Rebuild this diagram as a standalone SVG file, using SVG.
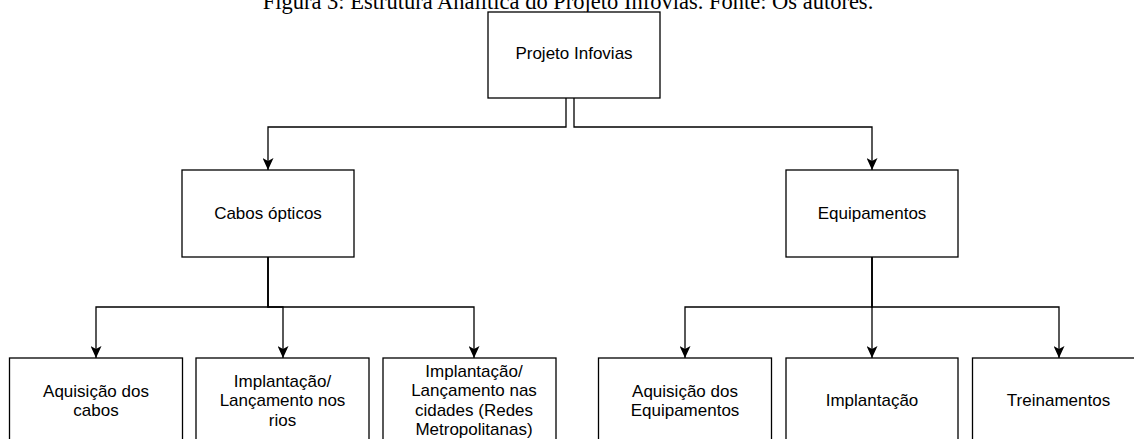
<svg xmlns="http://www.w3.org/2000/svg" width="1134" height="439" viewBox="0 0 1134 439">
<style>
.box{fill:#fff;stroke:#000;stroke-width:1.3}
.lbl{font-family:"Liberation Sans",Arial,Helvetica,sans-serif;font-size:17px;fill:#000;text-anchor:middle}
.title{font-family:"Liberation Serif","Times New Roman",serif;font-size:22.5px;fill:#000;text-anchor:middle}
.edge{fill:none;stroke:#000;stroke-width:1.3;marker-end:url(#arr)}
</style>
<defs>
<marker id="arr" markerUnits="userSpaceOnUse" viewBox="0 0 12 11" refX="12" refY="5.5" markerWidth="12" markerHeight="11" orient="auto">
<path d="M0,0 L12,5.5 L0,11 L3,5.5 z" fill="#000"/>
</marker>
</defs>
<rect width="1134" height="439" fill="#fff"/>
<text class="title" x="568" y="9">Figura 3: Estrutura Analítica do Projeto Infovias. Fonte: Os autores.</text>
<g id="connectors">
<path class="edge" d="M566 98 V127 H268 V170"/>
<path class="edge" d="M574 98 V127 H872 V170"/>
<path class="edge" d="M268 257 V307 H96 V358"/>
<path class="edge" d="M268 257 V307 H283 V358"/>
<path class="edge" d="M268 257 V307 H474 V358"/>
<path class="edge" d="M872 257 V307 H685 V358"/>
<path class="edge" d="M872 257 V358"/>
<path class="edge" d="M872 257 V307 H1059 V358"/>
</g>
<g id="projeto">
<rect class="box" x="488" y="12" width="172" height="86"/>
<text class="lbl" x="574" y="59">Projeto Infovias</text>
</g>
<g id="cabos">
<rect class="box" x="182" y="170" width="172" height="87"/>
<text class="lbl" x="268" y="218.5">Cabos ópticos</text>
</g>
<g id="equipamentos">
<rect class="box" x="786" y="170" width="172" height="87"/>
<text class="lbl" x="872" y="218.5">Equipamentos</text>
</g>
<g id="aquisicao-cabos">
<rect class="box" x="9.5" y="358" width="173" height="87"/>
<text class="lbl" x="96" y="396.5">Aquisição dos</text>
<text class="lbl" x="96" y="416">cabos</text>
</g>
<g id="implantacao-rios">
<rect class="box" x="196" y="358" width="173" height="87"/>
<text class="lbl" x="282.5" y="386.5">Implantação/</text>
<text class="lbl" x="282.5" y="406">Lançamento nos</text>
<text class="lbl" x="282.5" y="425.5">rios</text>
</g>
<g id="implantacao-cidades">
<rect class="box" x="383" y="358" width="173" height="87"/>
<text class="lbl" x="474" y="376.75">Implantação/</text>
<text class="lbl" x="474" y="396.25">Lançamento nas</text>
<text class="lbl" x="474" y="415.75">cidades (Redes</text>
<text class="lbl" x="474" y="435.25">Metropolitanas)</text>
</g>
<g id="aquisicao-equip">
<rect class="box" x="598.5" y="358" width="173" height="87"/>
<text class="lbl" x="685" y="396.5">Aquisição dos</text>
<text class="lbl" x="685" y="416">Equipamentos</text>
</g>
<g id="implantacao">
<rect class="box" x="786" y="358" width="172" height="87"/>
<text class="lbl" x="872" y="406">Implantação</text>
</g>
<g id="treinamentos">
<rect class="box" x="972.5" y="358" width="173" height="87"/>
<text class="lbl" x="1058.5" y="406">Treinamentos</text>
</g>
</svg>
